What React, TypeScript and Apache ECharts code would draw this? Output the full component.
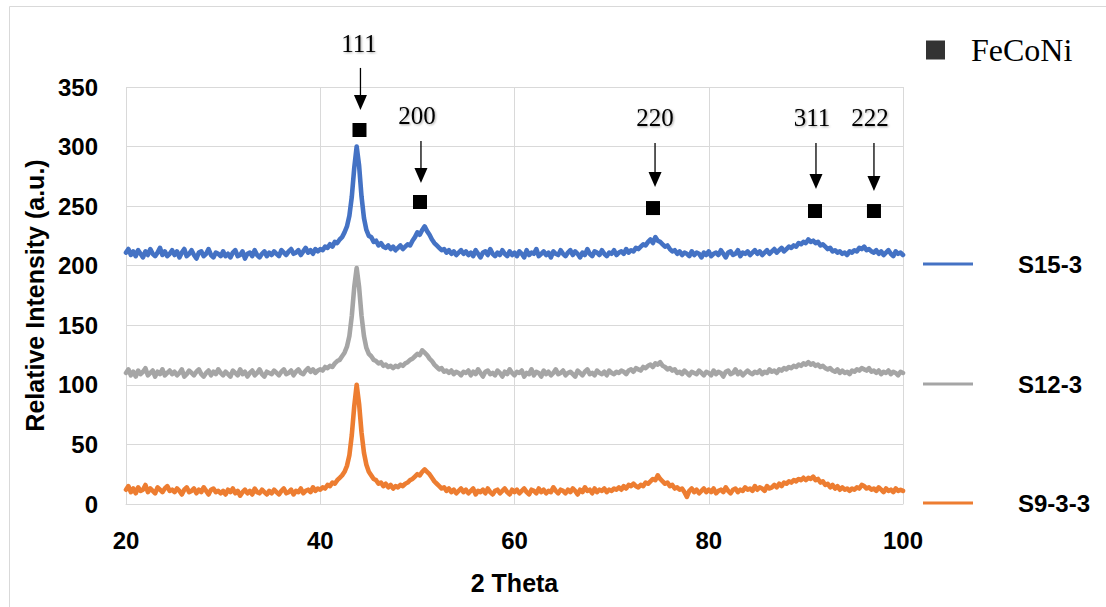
import React, { useEffect, useRef } from "react";
import * as echarts from "echarts";

// 2θ sampling: 20° to 100° in 0.25° steps (321 points)
const THETA_START = 20;
const THETA_STEP = 0.25;

const seriesNames = ["S15-3", "S12-3", "S9-3-3"];
const seriesColors = ["#4472C4", "#A5A5A5", "#ED7D31"];

const s15_3 = [
  211,214,209,212,208,213,210,207,212,209,214,210,208,211,215,209,212,208,210,213,
  209,212,207,211,214,208,210,213,209,206,211,212,208,210,214,209,207,211,210,208,
  212,208,210,207,211,213,208,209,212,206,210,211,208,213,209,207,210,212,208,211,
  209,212,210,208,213,211,209,212,214,210,211,213,209,212,215,211,213,210,214,212,
  214,213,216,215,218,216,220,219,222,224,228,233,242,258,282,300,284,258,240,230,
  225,224,220,221,217,219,216,215,217,214,216,213,215,217,214,216,218,217,221,224,
  228,226,230,233,229,226,222,219,217,215,213,214,211,213,210,212,209,211,213,210,
  212,209,211,208,213,210,207,211,212,209,214,210,208,211,209,213,210,208,212,209,
  211,208,212,210,207,213,209,211,210,214,208,210,212,209,211,207,212,210,209,213,
  210,208,211,213,209,212,210,207,211,209,214,210,208,212,211,209,213,210,208,211,
  210,213,209,211,212,210,214,211,213,212,215,214,216,218,217,220,222,219,224,221,
  220,218,216,217,214,212,213,210,212,209,211,210,208,212,209,211,210,207,211,209,
  212,208,210,211,209,213,210,207,211,212,209,210,213,208,211,210,212,209,211,213,
  210,212,209,211,213,210,212,214,211,213,215,212,214,216,215,217,216,219,218,220,
  219,222,220,221,219,220,217,218,216,214,215,212,213,211,212,210,211,209,212,211,
  213,212,215,214,216,213,214,212,211,213,210,212,209,211,213,210,208,212,210,211,
  209,
];

const s12_3 = [
  110,113,108,111,107,112,109,111,114,108,110,112,107,111,109,113,108,110,112,109,
  111,108,110,113,107,109,112,110,108,111,113,109,107,110,112,108,111,109,113,110,
  108,111,109,107,112,110,108,113,109,111,107,110,112,108,110,113,109,107,111,110,
  109,112,110,108,111,113,109,110,112,108,111,113,110,109,112,114,111,113,110,112,
  113,112,115,114,116,115,118,120,121,124,127,132,141,158,182,198,182,158,141,131,
  126,124,121,120,118,119,116,117,115,116,114,116,115,117,116,118,119,121,122,124,
  126,125,129,127,125,122,120,117,115,113,114,111,112,110,112,109,111,110,108,111,
  110,112,108,111,109,113,110,107,111,112,109,110,108,112,110,107,111,109,113,110,
  108,111,110,112,107,110,109,113,108,111,110,107,112,109,111,108,110,113,109,110,
  112,108,110,111,109,107,112,110,108,111,113,109,110,108,112,110,109,111,108,112,
  110,109,111,110,112,111,109,112,113,111,114,113,112,115,114,116,117,115,118,117,
  119,116,115,113,114,112,113,110,111,109,112,110,108,111,110,109,112,110,108,111,
  110,108,112,109,111,110,107,111,112,109,110,113,109,111,108,110,112,110,109,111,
  110,112,109,111,110,113,111,112,110,113,112,114,113,115,114,116,115,117,116,118,
  117,119,117,118,116,117,115,116,114,113,114,112,111,113,110,112,110,111,109,112,
  111,113,112,114,113,112,114,111,112,110,112,109,111,110,112,109,111,110,108,111,
  110,
];

const s9_3_3 = [
  12,15,10,13,9,14,11,12,16,10,13,11,9,14,12,10,13,15,11,12,
  10,13,11,8,12,14,10,11,13,9,12,10,14,11,8,12,13,10,11,9,
  11,8,12,10,13,9,11,7,10,12,9,11,8,13,10,9,12,10,8,11,
  9,12,10,8,11,13,9,10,12,8,11,10,13,9,11,12,10,14,11,13,
  12,14,13,16,15,18,17,20,22,24,27,32,41,58,82,100,84,60,43,33,
  27,24,21,20,17,18,15,17,14,16,13,15,14,16,15,17,18,20,21,23,
  25,24,27,29,27,25,22,19,17,15,13,14,11,13,10,12,9,11,13,10,
  12,9,11,13,8,11,10,12,9,13,10,8,11,12,9,11,13,10,8,12,
  10,12,9,11,13,10,8,12,11,9,13,10,12,9,11,10,14,11,9,12,
  11,9,12,10,13,11,8,12,10,14,11,12,9,13,10,12,11,13,10,12,
  11,13,12,14,12,15,13,16,15,17,15,14,16,15,18,17,19,21,20,24,
  21,19,17,18,15,16,13,14,12,13,10,6,11,13,10,12,9,11,13,10,
  12,10,13,9,11,12,10,14,11,9,12,13,10,12,11,14,12,13,11,15,
  12,14,13,11,15,13,14,16,14,17,15,18,17,19,18,20,19,21,20,22,
  20,22,21,23,20,21,18,19,16,17,14,16,13,15,12,14,12,13,11,13,
  12,14,13,16,15,13,14,12,13,11,14,12,10,13,11,12,10,13,11,12,
  11,
];

// FeCoNi peak annotations (hkl), in data units (2θ, intensity)
const peakLabels = ["111", "200", "220", "311", "222"];
const peakLabelX = [43.99, 49.96, 74.47, 90.63, 96.6];
const peakLabelY = [386.9, 325.7, 324.0, 324.0, 324.0];
const peakArrowX = [44.14, 50.37, 74.47, 91.04, 97.01];
const peakArrowTop = [366.0, 304.7, 303.0, 303.0, 303.0];
const peakArrowTip = [330.7, 269.4, 266.1, 264.4, 262.7];
const peakMarkX = [44.04, 50.27, 74.26, 90.94, 97.01];
const peakMarkY = [313.9, 253.5, 248.4, 245.9, 245.9];

const xTicks = { min: 20, max: 100, interval: 20 };
const yTicks = { min: 0, max: 350, interval: 50 };

const SANS = "'Liberation Sans', Arial, sans-serif";
const SERIF = "'Liberation Serif', 'Times New Roman', serif";

export default function App() {
  const ref = useRef<HTMLDivElement>(null);

  useEffect(() => {
    if (!ref.current) return;
    const chart = echarts.init(ref.current, undefined, { renderer: "svg" });

    const values = [s15_3, s12_3, s9_3_3];
    const lineSeries = values.map((vals, k) => ({
      name: seriesNames[k],
      type: "line",
      data: vals.map((v, i) => [THETA_START + i * THETA_STEP, v]),
      showSymbol: false,
      symbol: "none",
      silent: true,
      color: seriesColors[k],
      lineStyle: { width: 4.6, color: seriesColors[k], join: "round", cap: "round" },
      z: 3,
    }));

    const markPointData = peakLabels.map((lab, i) => ({
      name: "sq" + lab,
      coord: [peakMarkX[i], peakMarkY[i]],
      symbol: "rect",
      symbolSize: 14,
      itemStyle: { color: "#000" },
      label: { show: false },
    }));

    const legendCommon = {
      orient: "vertical",
      padding: 0,
      icon: "rect",
      itemWidth: 50,
      itemHeight: 3,
      selectedMode: false,
      textStyle: {
        fontFamily: SANS,
        fontSize: 24,
        fontWeight: "bold",
        color: "#000",
        padding: [0, 0, 0, 40],
      },
    };

    const borderRect = {
      id: "border",
      type: "rect",
      silent: true,
      shape: { x: 9.5, y: 6.5, width: 1200, height: 700 },
      style: { fill: "none", stroke: "#d9d9d9", lineWidth: 1 },
      z: -10,
    };

    chart.setOption({
      animation: false,
      backgroundColor: "#fff",
      grid: { left: 126, right: 203, top: 87, bottom: 103, containLabel: false },
      xAxis: {
        type: "value",
        ...xTicks,
        name: "2 Theta",
        nameLocation: "middle",
        nameGap: 66,
        nameTextStyle: { fontFamily: SANS, fontSize: 25, fontWeight: "bold", color: "#000" },
        axisLine: { show: true, lineStyle: { color: "#d9d9d9", width: 1 } },
        axisTick: { show: false },
        axisLabel: { margin: 24, fontFamily: SANS, fontSize: 24, fontWeight: "bold", color: "#000" },
        splitLine: { show: true, lineStyle: { color: "#d9d9d9", width: 1 } },
      },
      yAxis: {
        type: "value",
        ...yTicks,
        name: "Relative Intensity (a.u.)",
        nameLocation: "middle",
        nameRotate: 90,
        nameGap: 78,
        nameTextStyle: { fontFamily: SANS, fontSize: 25, fontWeight: "bold", color: "#000" },
        axisLine: { show: false },
        axisTick: { show: false },
        axisLabel: { margin: 28, fontFamily: SANS, fontSize: 24, fontWeight: "bold", color: "#000" },
        splitLine: { show: true, lineStyle: { color: "#d9d9d9", width: 1 } },
      },
      legend: [
        { ...legendCommon, data: [seriesNames[0]], left: 923, top: 252 },
        { ...legendCommon, data: [seriesNames[1]], left: 923, top: 372 },
        { ...legendCommon, data: [seriesNames[2]], left: 923, top: 491 },
        {
          orient: "vertical",
          padding: 0,
          selectedMode: false,
          data: [{ name: "FeCoNi", icon: "rect" }],
          itemWidth: 19,
          itemHeight: 19,
          left: 926,
          top: 34,
          textStyle: {
            fontFamily: SERIF,
            fontSize: 32,
            color: "#000",
            padding: [0, 0, 0, 21],
          },
        },
      ],
      graphic: [borderRect],
      series: [
        ...lineSeries,
        {
          name: "FeCoNi",
          type: "scatter",
          data: [],
          silent: true,
          itemStyle: { color: "#000" },
          markPoint: {
            silent: true,
            data: markPointData,
          },
          z: 5,
        },
      ],
    });

    // peak labels and arrows, placed through the chart's own coordinate conversion
    const graphics: any[] = [borderRect];
    peakLabels.forEach((lab, i) => {
      const [lx, ly] = chart.convertToPixel({ gridIndex: 0 }, [peakLabelX[i], peakLabelY[i]]);
      const [ax, aTop] = chart.convertToPixel({ gridIndex: 0 }, [peakArrowX[i], peakArrowTop[i]]);
      const [, aTip] = chart.convertToPixel({ gridIndex: 0 }, [peakArrowX[i], peakArrowTip[i]]);
      graphics.push({
        id: "lab" + i,
        type: "text",
        silent: true,
        x: lx,
        y: ly,
        style: {
          text: lab,
          fontFamily: SERIF,
          fontSize: 25,
          fill: "#000",
          align: "center",
          verticalAlign: "middle",
          textShadowColor: "rgba(0,0,0,0.35)",
          textShadowBlur: 2,
          textShadowOffsetX: 1,
          textShadowOffsetY: 1,
        },
        z: 10,
      });
      graphics.push({
        id: "shaft" + i,
        type: "line",
        silent: true,
        shape: { x1: ax, y1: aTop, x2: ax, y2: aTip - 12 },
        style: { stroke: "#000", lineWidth: 1.3 },
        z: 10,
      });
      graphics.push({
        id: "head" + i,
        type: "polygon",
        silent: true,
        shape: {
          points: [
            [ax - 6.5, aTip - 15],
            [ax + 6.5, aTip - 15],
            [ax, aTip],
          ],
        },
        style: { fill: "#000" },
        z: 10,
      });
    });
    chart.setOption({ graphic: graphics });

    return () => chart.dispose();
  }, []);

  return (
    <div
      ref={ref}
      style={{ position: "absolute", left: 0, top: 0, width: 1106, height: 607, background: "#fff" }}
    />
  );
}
